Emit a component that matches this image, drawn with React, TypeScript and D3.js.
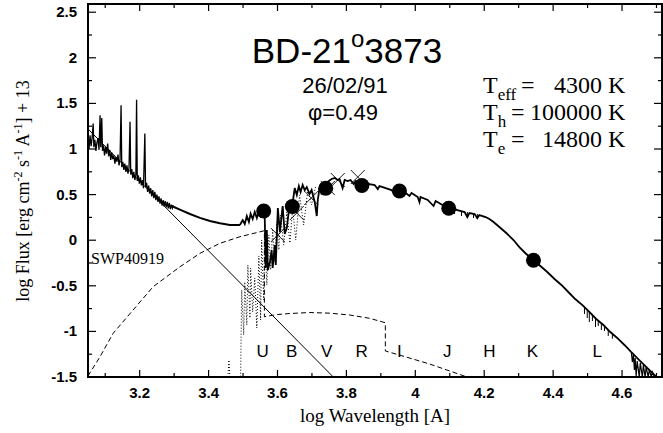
import React from 'react';
import * as d3 from 'd3';

// ---------- data ----------
const xTicksMajor = [3.2, 3.4, 3.6, 3.8, 4.0, 4.2, 4.4, 4.6];
const xTickLabels = ['3.2', '3.4', '3.6', '3.8', '4', '4.2', '4.4', '4.6'];
const xTicksMinor = [3.1, 3.3, 3.5, 3.7, 3.9, 4.1, 4.3, 4.5, 4.7];
const yTicksMajor = [-1.5, -1, -0.5, 0, 0.5, 1, 1.5, 2, 2.5];
const yTickLabels = ['-1.5', '-1', '-0.5', '0', '0.5', '1', '1.5', '2', '2.5'];
const yTicksMinor = [-1.25, -0.75, -0.25, 0.25, 0.75, 1.25, 1.75, 2.25];

// IUE SWP spectrum (log lambda, log flux)
const swpX = [3.050, 3.053, 3.056, 3.059, 3.062, 3.065, 3.067, 3.070, 3.073, 3.076, 3.079, 3.082, 3.085, 3.087, 3.090, 3.092, 3.095, 3.098, 3.101, 3.104, 3.107, 3.110, 3.113, 3.116, 3.119, 3.122, 3.125, 3.128, 3.131, 3.134, 3.137, 3.140, 3.143, 3.146, 3.148, 3.151, 3.154, 3.157, 3.160, 3.163, 3.166, 3.169, 3.172, 3.174, 3.177, 3.180, 3.183, 3.186, 3.189, 3.191, 3.193, 3.196, 3.199, 3.202, 3.205, 3.208, 3.211, 3.215, 3.217, 3.220, 3.223, 3.226, 3.229, 3.232, 3.235, 3.238, 3.241, 3.244, 3.247, 3.250, 3.253, 3.256, 3.259, 3.262, 3.265, 3.268, 3.271, 3.274, 3.277, 3.280, 3.283, 3.286, 3.289, 3.292, 3.295, 3.298];
const swpY = [1.10, 1.00, 1.15, 1.03, 1.12, 1.28, 1.02, 1.10, 0.98, 1.07, 1.12, 0.99, 1.37, 1.02, 1.34, 0.98, 1.04, 0.93, 1.02, 0.95, 1.06, 0.92, 0.99, 0.88, 0.96, 0.89, 0.93, 0.84, 0.91, 0.86, 0.94, 0.82, 0.88, 1.48, 0.80, 0.86, 0.77, 0.84, 0.75, 0.82, 0.73, 0.79, 1.30, 0.72, 0.78, 0.68, 0.75, 0.66, 0.72, 1.54, 0.65, 0.71, 0.62, 0.69, 0.60, 0.66, 0.57, 1.17, 0.58, 0.63, 0.53, 0.60, 0.51, 0.57, 0.48, 0.55, 0.46, 0.53, 0.44, 0.50, 0.42, 0.48, 0.40, 0.46, 0.38, 0.44, 0.37, 0.43, 0.36, 0.42, 0.35, 0.41, 0.34, 0.39, 0.35, 0.38];

// smooth model sum between UV and optical
const smoothX = [3.293, 3.320, 3.346, 3.375, 3.404, 3.433, 3.462, 3.491];
const smoothY = [0.375, 0.330, 0.287, 0.245, 0.210, 0.185, 0.167, 0.167];

// optical / IR observed spectrum
const optX = [3.491, 3.499, 3.505, 3.511, 3.517, 3.522, 3.528, 3.534, 3.540, 3.546, 3.551, 3.557, 3.563, 3.566, 3.569, 3.572, 3.578, 3.583, 3.586, 3.592, 3.595, 3.601, 3.607, 3.615, 3.621, 3.627, 3.636, 3.641, 3.650, 3.656, 3.662, 3.667, 3.673, 3.679, 3.685, 3.693, 3.699, 3.708, 3.714, 3.717, 3.722, 3.731, 3.740, 3.749, 3.757, 3.766, 3.775, 3.780, 3.789, 3.795, 3.804, 3.812, 3.821, 3.827, 3.833, 3.838, 3.847, 3.856, 3.867, 3.882, 3.891, 3.896, 3.914, 3.931, 3.940, 3.946, 3.969, 3.983, 3.989, 4.007, 4.012, 4.015, 4.036, 4.053, 4.059, 4.079, 4.099, 4.122, 4.143, 4.151, 4.157, 4.172, 4.180, 4.186, 4.204, 4.215, 4.227, 4.244, 4.264, 4.285, 4.302, 4.322, 4.343, 4.363, 4.383, 4.404, 4.424, 4.444, 4.464, 4.485, 4.505, 4.525, 4.546, 4.566, 4.586, 4.607, 4.627];
const optY = [0.167, 0.221, 0.178, 0.265, 0.200, 0.290, 0.232, 0.309, 0.243, 0.320, 0.265, 0.309, 0.243, -0.305, 0.112, -0.327, -0.239, -0.107, -0.305, -0.053, -0.272, 0.353, 0.090, 0.375, 0.068, 0.134, 0.419, 0.331, 0.572, 0.496, 0.594, 0.528, 0.605, 0.550, 0.583, 0.507, 0.550, 0.419, 0.265, 0.441, 0.572, 0.627, 0.616, 0.649, 0.671, 0.682, 0.660, 0.671, 0.572, 0.660, 0.649, 0.660, 0.616, 0.649, 0.594, 0.649, 0.627, 0.638, 0.616, 0.605, 0.561, 0.594, 0.572, 0.550, 0.507, 0.550, 0.528, 0.485, 0.518, 0.474, 0.419, 0.474, 0.441, 0.375, 0.430, 0.386, 0.353, 0.331, 0.309, 0.254, 0.298, 0.287, 0.243, 0.276, 0.254, 0.232, 0.200, 0.145, 0.079, 0.002, -0.075, -0.151, -0.217, -0.283, -0.349, -0.425, -0.491, -0.568, -0.645, -0.711, -0.787, -0.864, -0.930, -1.007, -1.072, -1.149, -1.226];

// short absorption spikes hanging below the IR spectrum (x, top, bottom)
const spikeX = [4.114, 4.134, 4.151, 4.169, 4.180, 4.491, 4.499, 4.505, 4.514, 4.523, 4.531, 4.540, 4.549, 4.560, 4.572];
const spikeTop = [0.342, 0.320, 0.309, 0.298, 0.287, -0.722, -0.754, -0.776, -0.809, -0.842, -0.875, -0.908, -0.941, -0.985, -1.030];
const spikeBottom = [0.287, 0.265, 0.243, 0.243, 0.232, -0.809, -0.853, -0.897, -0.886, -0.952, -0.941, -0.985, -0.996, -1.050, -1.080];

// noisy tail of the IR spectrum
const tailX = [4.627, 4.630, 4.633, 4.636, 4.638, 4.641, 4.644, 4.650, 4.653, 4.659, 4.662, 4.667, 4.670, 4.676, 4.679, 4.685, 4.688, 4.694, 4.700];
const tailY = [-1.226, -1.336, -1.259, -1.423, -1.292, -1.489, -1.325, -1.500, -1.346, -1.500, -1.368, -1.500, -1.390, -1.500, -1.423, -1.500, -1.445, -1.500, -1.500];
const tailEdgeX = [4.627, 4.650, 4.673, 4.700];
const tailEdgeY = [-1.226, -1.314, -1.401, -1.500];

// cool giant model spectrum (dotted)
const giantX = [3.456, 3.459, 3.462, 3.493, 3.496, 3.502, 3.505, 3.511, 3.514, 3.520, 3.522, 3.528, 3.534, 3.540, 3.546, 3.551, 3.554, 3.560, 3.563, 3.569, 3.575, 3.580, 3.586, 3.592, 3.598, 3.604, 3.609, 3.618, 3.627, 3.636, 3.644, 3.653, 3.664, 3.676, 3.688, 3.699, 3.711];
const giantY = [-1.5, -1.314, -1.5, -1.5, -0.546, -1.039, -0.458, -0.930, -0.272, -0.853, -0.305, -0.787, -0.414, -0.963, -0.173, -0.875, 0.002, -0.656, 0.090, -0.491, 0.057, -0.327, 0.112, -0.239, 0.200, -0.107, 0.276, -0.053, 0.309, -0.031, 0.353, 0.002, 0.496, 0.167, 0.550, 0.386, 0.594];

// hot component (straight line)
const hotX = [3.05, 3.762];
const hotY = [1.22, -1.5];

// nebular continuum (dashed)
const nebX = [3.050, 3.085, 3.123, 3.181, 3.239, 3.317, 3.375, 3.433, 3.491, 3.562, 3.562, 3.573, 3.600, 3.636, 3.693, 3.751, 3.809, 3.867, 3.913, 3.913, 3.954, 4.041, 4.148];
const nebY = [-1.489, -1.277, -1.021, -0.765, -0.510, -0.291, -0.144, -0.034, 0.038, 0.104, -0.84, -0.831, -0.815, -0.804, -0.793, -0.800, -0.820, -0.856, -0.905, -1.215, -1.259, -1.357, -1.497];

// photometry
const photX = [3.560, 3.643, 3.740, 3.845, 3.954, 4.097, 4.343];
const photY = [0.32, 0.37, 0.57, 0.60, 0.54, 0.35, -0.22];
const crossX = [3.601, 3.656, 3.698, 3.746, 3.775, 3.833];
const crossY = [0.057, 0.298, 0.463, 0.572, 0.660, 0.693];

const bandNames = ['U', 'B', 'V', 'R', 'I', 'J', 'H', 'K', 'L'];
const bandX = [3.557, 3.641, 3.743, 3.844, 3.954, 4.093, 4.215, 4.340, 4.528];
const bandLabelY = -1.28;

// ---------- layout ----------
const W = 663, H = 433;
const L = 88, R = 662, T = 4, B = 377;

export default function App() {
  const x = d3.scaleLinear().domain([3.05, 4.716]).range([L, R]);
  const y = d3.scaleLinear().domain([-1.5, 2.59]).range([B, T]);
  const line = d3.line<[number, number]>().x(d => x(d[0])).y(d => y(d[1]));
  const zip = (xs: number[], ys: number[]) => xs.map((v, i) => [v, ys[i]] as [number, number]);

  const sans = 'Liberation Sans, Arial, sans-serif';
  const serif = 'Liberation Serif, Times New Roman, serif';

  return (
    <svg width={W} height={H} style={{ position: 'absolute', left: 0, top: 0, background: '#fff' }}>
      <rect x={0} y={0} width={W} height={H} fill="#fff" />
      <defs>
        <clipPath id="plot"><rect x={L} y={T} width={R - L} height={B - T} /></clipPath>
      </defs>
      <g clipPath="url(#plot)" fill="none" stroke="#000">
        <path d={line(zip(hotX, hotY)) || ''} strokeWidth={1} />
        <path d={line(zip(nebX, nebY)) || ''} strokeWidth={1} strokeDasharray="5,3" />
        <path d={line(zip(giantX, giantY)) || ''} strokeWidth={1} strokeDasharray="1,2" />
        <path d={line(zip(swpX, swpY)) || ''} strokeWidth={1.3} />
        <path d={line(zip(smoothX, smoothY)) || ''} strokeWidth={2} />
        <path d={line(zip(optX, optY)) || ''} strokeWidth={1.8} />
        {spikeX.map((v, i) => (
          <line key={'s' + i} x1={x(v)} x2={x(v)} y1={y(spikeTop[i])} y2={y(spikeBottom[i])} strokeWidth={1} />
        ))}
        <path d={line(zip(tailX, tailY)) || ''} strokeWidth={1.2} />
        <path d={line(zip(tailEdgeX, tailEdgeY)) || ''} strokeWidth={1.8} />
      </g>
      {photX.map((v, i) => (
        <circle key={'p' + i} cx={x(v)} cy={y(photY[i])} r={7.5} fill="#000" />
      ))}
      {crossX.map((v, i) => {
        const cx = x(v), cy = y(crossY[i]), s = 7;
        return (
          <g key={'c' + i} stroke="#000" strokeWidth={0.9}>
            <line x1={cx - s} y1={cy - s} x2={cx + s} y2={cy + s} />
            <line x1={cx - s} y1={cy + s} x2={cx + s} y2={cy - s} />
          </g>
        );
      })}
      {bandNames.map((n, i) => (
        <text key={'b' + i} x={x(bandX[i])} y={y(bandLabelY)} textAnchor="middle" fontFamily={sans} fontSize={17}>{n}</text>
      ))}

      {/* frame */}
      <rect x={L} y={T} width={R - L} height={B - T} fill="none" stroke="#000" strokeWidth={2} />
      <g stroke="#000" strokeWidth={1.2}>
        {xTicksMajor.map((v, i) => (
          <g key={'xM' + i}>
            <line x1={x(v)} x2={x(v)} y1={B} y2={B - 7} />
            <line x1={x(v)} x2={x(v)} y1={T} y2={T + 7} />
          </g>
        ))}
        {xTicksMinor.map((v, i) => (
          <g key={'xm' + i}>
            <line x1={x(v)} x2={x(v)} y1={B} y2={B - 4} />
            <line x1={x(v)} x2={x(v)} y1={T} y2={T + 4} />
          </g>
        ))}
        {yTicksMajor.map((v, i) => (
          <g key={'yM' + i}>
            <line x1={L} x2={L + 8} y1={y(v)} y2={y(v)} />
            <line x1={R} x2={R - 8} y1={y(v)} y2={y(v)} />
          </g>
        ))}
        {yTicksMinor.map((v, i) => (
          <g key={'ym' + i}>
            <line x1={L} x2={L + 4} y1={y(v)} y2={y(v)} />
            <line x1={R} x2={R - 4} y1={y(v)} y2={y(v)} />
          </g>
        ))}
      </g>
      {xTicksMajor.map((v, i) => (
        <text key={'xl' + i} x={x(v)} y={398} textAnchor="middle" fontFamily={sans} fontWeight="bold" fontSize={15}>{xTickLabels[i]}</text>
      ))}
      {yTicksMajor.map((v, i) => (
        <text key={'yl' + i} x={77} y={y(v) + 5} textAnchor="end" fontFamily={sans} fontWeight="bold" fontSize={15}>{yTickLabels[i]}</text>
      ))}

      {/* axis titles */}
      <text x={375} y={422} textAnchor="middle" fontFamily={serif} fontSize={19}>log Wavelength [A]</text>
      <text transform="translate(29,191) rotate(-90)" textAnchor="middle" fontFamily={serif} fontSize={18}>
        <tspan>log Flux [erg cm</tspan>
        <tspan dy={-7} fontSize={12}>-2</tspan>
        <tspan dy={7}>{' s'}</tspan>
        <tspan dy={-7} fontSize={12}>-1</tspan>
        <tspan dy={7}>{' A'}</tspan>
        <tspan dy={-7} fontSize={12}>-1</tspan>
        <tspan dy={7}>{'] + 13'}</tspan>
      </text>

      {/* title block */}
      <text x={347} y={63} textAnchor="middle" fontFamily={sans} fontSize={35}>
        <tspan>BD-21</tspan>
        <tspan dy={-16} fontSize={24}>o</tspan>
        <tspan dy={16}>3873</tspan>
      </text>
      <text x={345} y={93} textAnchor="middle" fontFamily={sans} fontSize={22}>26/02/91</text>
      <text x={343} y={120} textAnchor="middle" fontFamily={sans} fontSize={22}>φ=0.49</text>

      {/* legend */}
      <g fontFamily={serif} fontSize={24}>
        <text x={483} y={93}>T<tspan dy={7} fontSize={17}>eff</tspan></text>
        <text x={521} y={93}>=</text>
        <text x={602} y={93} textAnchor="end">4300</text>
        <text x={608} y={93}>K</text>
        <text x={483} y={120}>T<tspan dy={7} fontSize={17}>h</tspan></text>
        <text x={511} y={120}>=</text>
        <text x={602} y={120} textAnchor="end">100000</text>
        <text x={608} y={120}>K</text>
        <text x={483} y={147}>T<tspan dy={7} fontSize={17}>e</tspan></text>
        <text x={511} y={147}>=</text>
        <text x={602} y={147} textAnchor="end">14800</text>
        <text x={608} y={147}>K</text>
      </g>
      <text x={91} y={264} fontFamily={serif} fontSize={16}>SWP40919</text>
    </svg>
  );
}
